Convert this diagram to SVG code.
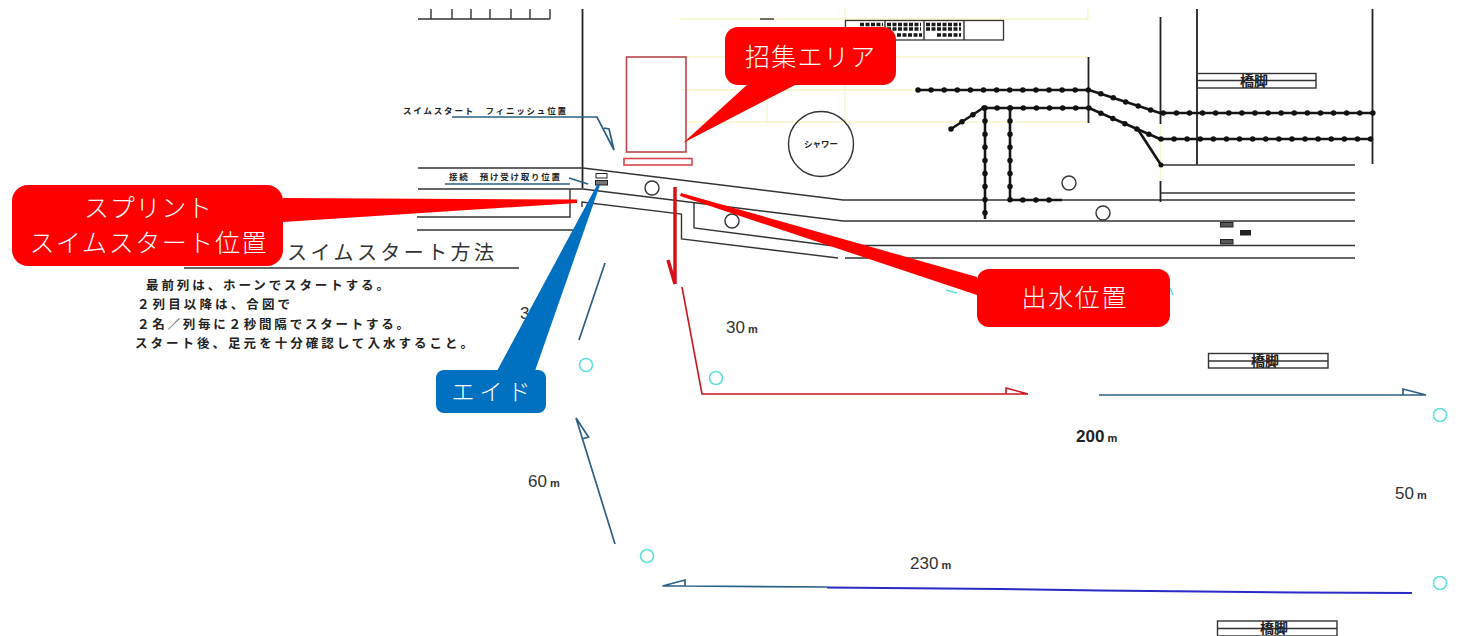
<svg xmlns="http://www.w3.org/2000/svg" width="1460" height="636" viewBox="0 0 1460 636">
<style>
text{font-family:"Noto Sans CJK JP","Liberation Sans",sans-serif}
.bg{fill:#fff}
.k{fill:none;stroke:#333;stroke-width:1.4}
.k2{fill:none;stroke:#222;stroke-width:1.8}
.y{fill:none;stroke:#f7f5c8;stroke-width:1.3}
.r{fill:none;stroke:#c8171f;stroke-width:1.6}
.rr{fill:none;stroke:#b5474d;stroke-width:1.6}
.b{fill:none;stroke:#2b5f85;stroke-width:1.7}
.bb{fill:none;stroke:#2a2ac4;stroke-width:2}
.c{fill:none;stroke:#5fdedc;stroke-width:1.6}
.o{fill:none;stroke:#333;stroke-width:1.4}
.cab{fill:none;stroke:#151515;stroke-width:2.6;stroke-linejoin:round}
.dot{fill:none;stroke:#111;stroke-width:5.500;stroke-linecap:round;stroke-dasharray:0 13.1}
.blk{fill:none;stroke:#1a1a1a;stroke-width:3.500;stroke-dasharray:4 1.500}
.red{fill:#ff0000}
.blue{fill:#0070c0}
.ct{fill:#fff;font-size:25px;font-weight:300;text-anchor:middle}
.s{fill:#222;font-weight:700;font-size:8.5px}
.body{fill:#222;font-size:12.5px;font-weight:700}
.d{fill:#333;font-size:17px;font-family:"Liberation Sans",sans-serif}
.m{font-size:11px;font-weight:700;font-family:"Liberation Sans",sans-serif}
.pier{fill:#222;font-size:14px;font-weight:700;text-anchor:middle}
</style>
<rect class="bg" width="1460" height="636"/>

<g id="site-plan">
<path class="y" d="M680 19H1088M686 57H1088M681 90H1088M686 122H1088M845 8V122M767 90V122M1160.500 124V181M1088 8V19"/>
<path class="k" d="M760 19H774"/>
<path class="k" d="M418 19H550M431 9V19M452 9V19M471 9V19M490 9V19M511 9V19M530 9V19M550 9V19"/>
<path class="k2" d="M582.500 9V188"/>
<path class="k" d="M418 168H583L843 200H1355"/>
<path class="k" d="M418 189H583L843 221H1355"/>
<path class="k" d="M417 217H570V189M417 230H575"/>
<path class="k" d="M582 207V202L681.500 214V239L838 258M845 258H1355"/>
<path class="k" d="M694 203V228L830 245.500H1355"/>
<path class="k2" d="M1088.500 57V123M1160.500 17V124M1160.500 181V202M1197 9V165M1372.500 9V164"/>
<path class="k" d="M1161 165H1355M1161 193H1355"/>
</g>

<g id="pool-markers">
<circle class="o" cx="652" cy="188" r="7"/>
<circle class="o" cx="732" cy="221" r="7"/>
<circle class="o" cx="1069" cy="183" r="7"/>
<circle class="o" cx="1103" cy="213" r="7"/>
</g>

<g id="cables">
<path class="cab" d="M918 90H1089L1160 113H1373"/>
<path class="dot" d="M918 90H1089L1160 113H1373"/>
<path class="cab" d="M951 129L983 108H1089L1160 139H1373"/>
<path class="dot" d="M951 129L983 108H1089L1160 139H1373"/>
<path class="cab" d="M1137 128L1161 165"/>
<circle cx="1161" cy="165" r="2.500" fill="#111"/>
<path class="cab" d="M985 108V219M1010 108V200H1062"/>
<path class="dot" d="M985 108V219"/>
<path class="dot" d="M1010 108V200H1062"/>
</g>

<g id="top-table">
<rect x="845.500" y="20.500" width="158" height="19.500" fill="#fff" stroke="#333" stroke-width="1.300"/>
<path class="k" d="M885 20V40M924 20V40M964 20V40"/>
<path class="blk" d="M860 24.500H883M887 24.500H921M926 24.500H961M887 29H921M926 29H961M897 35H922M937 35H961"/>
</g>

<g id="shower">
<circle class="o" cx="821" cy="144" r="32.500"/>
<text class="s" x="821" y="147" text-anchor="middle">シャワー</text>
</g>

<g id="call-area-box">
<rect class="rr" x="626.500" y="57" width="59.500" height="95"/>
<rect class="r" x="624" y="158.500" width="68" height="6.500" style="stroke:#d8454c"/>
</g>

<g id="label-swim-finish">
<text class="s" x="403" y="114" textLength="163" lengthAdjust="spacing">スイムスタート　フィニッシュ位置</text>
<path class="b" d="M452 117H597L614 150L609 129L604 128"/>
</g>

<g id="label-baggage">
<text class="s" x="449" y="180" textLength="111" lengthAdjust="spacing">接続　預け受け取り位置</text>
<path class="b" d="M445 184H570M569 178L588 184"/>
<rect x="596" y="173.500" width="11" height="4.500" fill="#fff" stroke="#222"/>
<rect x="595.500" y="180.500" width="12" height="4.500" fill="#777" stroke="#222"/>
</g>

<g id="method">
<text x="287" y="260" textLength="207" lengthAdjust="spacing" style="font-size:20px;fill:#333">スイムスタート方法</text>
<path class="k" d="M184 268H519"/>
<text class="body" x="146" y="290" textLength="243" lengthAdjust="spacing">最前列は、ホーンでスタートする。</text>
<text class="body" x="137" y="309" textLength="153" lengthAdjust="spacing">２列目以降は、合図で</text>
<text class="body" x="137" y="329" textLength="272" lengthAdjust="spacing">２名／列毎に２秒間隔でスタートする。</text>
<text class="body" x="135" y="348" textLength="338" lengthAdjust="spacing">スタート後、足元を十分確認して入水すること。</text>
</g>

<g id="connectors">
<path d="M675 187V284M675 284L668 260" fill="none" stroke="#d5121a" stroke-width="3.500"/>
<path class="r" d="M682 287L702 394H1028L1006 388V394"/>
<path class="b" d="M605 263L579 340"/>
<path class="b" d="M615 544L576 418L588.500 437L582 439"/>
<path class="b" d="M827 587L685 586V580L662.500 586H685"/>
<path class="bb" d="M827 587.500L1000 589L1100 590.500L1200 591.500L1300 592.500L1412 593"/>
<path class="b" d="M1099 395H1426L1403 389V395"/>
<path class="c" d="M946 290L957 293M1170 288L1173 295"/>
</g>

<g id="buoys">
<circle class="c" cx="586" cy="365" r="6.500"/>
<circle class="c" cx="716" cy="378" r="6.500"/>
<circle class="c" cx="647" cy="556" r="6.500"/>
<circle class="c" cx="1440" cy="415" r="6.500"/>
<circle class="c" cx="1440" cy="583" r="6.500"/>
</g>

<g id="distances">
<text class="d" x="520" y="319">30<tspan class="m" dx="3">m</tspan></text>
<text class="d" x="726" y="333">30<tspan class="m" dx="3">m</tspan></text>
<text class="d" x="528" y="487">60<tspan class="m" dx="3">m</tspan></text>
<text class="d" x="910" y="569">230<tspan class="m" dx="3">m</tspan></text>
<text class="d" x="1076" y="442" style="font-weight:700;fill:#222">200<tspan class="m" dx="3">m</tspan></text>
<text class="d" x="1395" y="499">50<tspan class="m" dx="3">m</tspan></text>
</g>

<g id="pier-1">
<rect class="k" x="1197" y="73.500" width="119" height="14.500"/><path class="k" d="M1197 80.500H1316"/>
<text class="pier" x="1254" y="86">橋脚</text>
</g>
<g id="pier-2">
<rect class="k" x="1208.500" y="353.500" width="119.500" height="14.500"/><path class="k" d="M1208.500 361H1328"/>
<text class="pier" x="1265" y="366">橋脚</text>
</g>
<g id="pier-3">
<rect class="k" x="1217.500" y="621" width="119.500" height="15"/><path class="k" d="M1217.500 628.500H1337"/>
<text class="pier" x="1274" y="633">橋脚</text>
</g>

<g id="small-boxes">
<rect x="1220.500" y="222.500" width="12.500" height="4.500" fill="#555" stroke="#222"/>
<rect x="1240.500" y="230.500" width="10" height="4.500" fill="#222" stroke="#222"/>
<rect x="1220.500" y="239.500" width="12.500" height="4.500" fill="#555" stroke="#222"/>
</g>

<g id="callout-sprint">
<path class="red" d="M283 198L577 199.500V203L283 222Z"/>
<rect class="red" x="12" y="185" width="271" height="81" rx="16"/>
<text class="ct" x="148" y="217" textLength="128" lengthAdjust="spacing">スプリント</text>
<text class="ct" x="148" y="252" textLength="237" lengthAdjust="spacing">スイムスタート位置</text>
</g>
<g id="callout-call-area">
<path class="red" d="M748 84H797L683 143Z"/>
<rect class="red" x="725" y="27" width="171" height="58" rx="13"/>
<text class="ct" x="810" y="66" textLength="130" lengthAdjust="spacing">招集エリア</text>
</g>
<g id="callout-exit">
<path class="red" d="M681 193L977 277V295L680 196Z"/>
<rect class="red" x="977" y="269" width="193" height="58" rx="12"/>
<text class="ct" x="1074" y="307" textLength="105" lengthAdjust="spacing">出水位置</text>
</g>
<g id="callout-aid">
<path class="blue" d="M497 371L597 185H600L535 371Z"/>
<rect class="blue" x="436" y="370" width="110" height="43" rx="8"/>
<text class="ct" x="491" y="400" style="font-size:23px" textLength="79" lengthAdjust="spacing">エイド</text>
</g>
</svg>
